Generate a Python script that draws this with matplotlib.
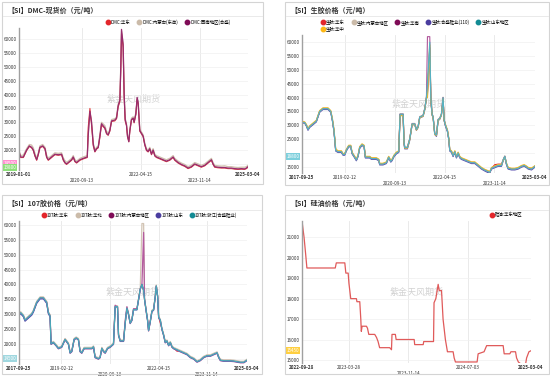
import matplotlib
matplotlib.use("Agg")
import matplotlib.pyplot as plt
import matplotlib.transforms as mtransforms
from matplotlib.lines import Line2D
from matplotlib.patches import Rectangle
import pandas as pd

plt.rcParams['font.family'] = ['Noto Sans CJK SC', 'DejaVu Sans']
plt.rcParams['axes.unicode_minus'] = False

# ---------------- data ----------------
titles = ["【SI】DMC-现货价（元/吨）", "【SI】生胶价格（元/吨）",
          "【SI】107胶价格（元/吨）", "【SI】硅油价格（元/吨）"]
watermark = "紫金天风期货"

# Panel 1: DMC
dmc_labels = ["DMC:华东", "DMC:内蒙古(东岳)", "DMC:西南地区(合盛)"]
dmc_dates = [
    "2019-01-01","2019-01-17","2019-02-13","2019-03-17","2019-04-13","2019-05-05","2019-05-22","2019-06-07","2019-06-24","2019-07-10",
    "2019-07-26","2019-08-22","2019-09-14","2019-09-30","2019-10-16","2019-11-02","2019-12-04","2019-12-21","2020-01-23","2020-02-24",
    "2020-03-12","2020-03-28","2020-04-13","2020-04-30","2020-06-02","2020-06-18","2020-07-04","2020-07-21","2020-08-23","2020-09-24",
    "2020-11-03","2020-11-12","2020-11-29","2020-12-15","2021-01-01","2021-01-17","2021-02-02","2021-02-19","2021-03-07","2021-03-23",
    "2021-04-25","2021-05-12","2021-05-28","2021-06-13","2021-06-30","2021-08-01","2021-08-18","2021-09-03","2021-09-20","2021-09-29",
    "2021-10-06","2021-10-22","2021-11-01","2021-11-11","2021-11-24","2021-12-04","2021-12-17","2021-12-27","2022-01-12","2022-01-29",
    "2022-02-07","2022-02-24","2022-03-09","2022-03-19","2022-04-04","2022-04-21","2022-05-07","2022-05-23","2022-06-09","2022-06-25",
    "2022-07-11","2022-07-28","2022-08-13","2022-08-30","2022-09-15","2022-10-18","2022-11-19","2022-12-22","2023-01-24","2023-02-26",
    "2023-03-14","2023-04-16","2023-05-19","2023-06-20","2023-07-23","2023-08-25","2023-09-27","2023-10-29","2023-12-01","2024-01-03",
    "2024-02-05","2024-03-09","2024-03-25","2024-04-10","2024-05-13","2024-06-15","2024-07-18","2024-08-19","2024-09-21","2024-10-24",
    "2024-11-26","2024-12-28","2025-01-30","2025-02-16","2025-03-04"]
dmc_east = [
    19000,17300,17300,19800,21300,20800,19800,17800,16300,18300,
    20800,21300,20300,17300,16300,16800,17800,18300,18100,18300,
    16300,15300,14800,15300,16300,17300,15800,15300,16300,16800,
    17300,28000,35000,29000,21500,19300,20300,20800,24500,29000,
    27800,25800,25300,26800,30300,30500,31300,35500,37500,49000,
    62000,57000,39000,30500,28800,24800,23000,26800,30800,31300,
    29800,32800,38500,36500,26800,25800,24800,21800,19800,19300,
    20300,18300,19800,17800,17300,16800,16300,15800,16300,17300,
    16300,15300,14600,14100,13300,13800,14800,14300,13800,14300,
    15300,16300,14800,13800,13600,13500,13500,13300,13300,13100,
    13000,13100,13000,13300,13800]
dmc_inner = [
    19800,18000,18200,20500,22000,21800,20800,18800,17000,19000,
    21500,22000,21000,18200,17200,17500,18500,19000,18800,19000,
    17200,16200,15600,16000,17000,18000,16600,16000,17000,17500,
    18000,26000,33000,30500,22500,20000,21000,21500,25500,30000,
    28800,26800,26000,27500,31000,31300,32000,36500,38500,51000,
    63000,58500,40500,31500,29500,25500,23500,27500,31500,32000,
    30500,33500,38000,37500,27500,26500,25500,22500,20500,20000,
    21000,19000,20500,18500,18000,17500,17000,16500,17000,18000,
    17000,16000,15300,14800,14000,14500,15500,15000,14500,15000,
    16000,17000,15500,14500,14300,14200,14300,14000,14000,13800,
    13700,13800,13800,14000,14500]
dmc_sw = [
    19500,17500,17500,20000,21500,21000,20000,18000,16500,18500,
    21000,21500,20500,17500,16500,17000,18000,18500,18300,18500,
    16500,15500,15000,15500,16500,17500,16000,15500,16500,17000,
    17500,25000,34000,30000,22000,19500,20500,21000,25000,29500,
    28000,26000,25500,27000,30500,30800,31500,36000,38000,50000,
    63500,58000,40000,31000,29000,25000,23000,27000,31000,31500,
    30000,33000,39000,37000,27000,26000,25000,22000,20000,19500,
    20500,18500,20000,18000,17500,17000,16500,16000,16500,17500,
    16500,15500,14800,14300,13500,14000,15000,14500,14000,14500,
    15500,16500,15000,14000,13800,13700,13700,13500,13500,13300,
    13200,13300,13200,13500,14000]
dmc_ticks = ["2019-01-01", "2020-09-13", "2022-04-15", "2023-11-14", "2025-03-04"]

# Panel 2: raw rubber
gum_labels = ["生胶:华东", "生胶:内蒙古地区", "生胶:华南", "生胶:合盛硅业(110)", "生胶:山东地区", "生胶:华中"]
gum_dates = [
    "2017-09-25","2017-10-26","2017-11-15","2017-12-04","2017-12-23","2018-01-31","2018-03-11","2018-04-19","2018-05-28","2018-07-25",
    "2018-08-26","2018-09-14","2018-10-03","2018-10-23","2018-11-19","2018-12-28","2019-01-16","2019-02-05","2019-02-24","2019-03-24",
    "2019-04-16","2019-05-02","2019-06-02","2019-06-21","2019-07-11","2019-07-30","2019-08-26","2019-09-19","2019-10-04","2019-10-27",
    "2019-11-24","2019-12-13","2020-01-21","2020-02-09","2020-03-08","2020-03-19","2020-04-27","2020-06-05","2020-07-02","2020-07-26",
    "2020-08-10","2020-09-03","2020-09-30","2020-10-27","2020-11-12","2020-12-17","2020-12-28","2021-01-05","2021-02-05","2021-03-04",
    "2021-04-01","2021-05-02","2021-05-21","2021-06-10","2021-06-29","2021-08-07","2021-08-27","2021-09-15","2021-09-27","2021-10-24",
    "2021-11-05","2021-11-20","2021-12-02","2021-12-21","2022-01-10","2022-01-29","2022-02-18","2022-03-09","2022-03-28","2022-04-09",
    "2022-04-25","2022-05-18","2022-06-03","2022-06-14","2022-07-04","2022-07-23","2022-08-12","2022-08-31","2022-09-20","2022-10-09",
    "2022-10-28","2022-12-06","2023-01-14","2023-02-22","2023-04-02","2023-05-11","2023-06-19","2023-07-28","2023-09-05","2023-09-24",
    "2023-10-14","2023-11-21","2023-12-30","2024-02-07","2024-02-27","2024-03-17","2024-04-06","2024-04-25","2024-06-03","2024-07-12",
    "2024-08-20","2024-09-28","2024-10-29","2024-11-25","2024-12-15","2025-01-23","2025-03-04"]
gum_red = [
    31000,31000,30000,28500,29500,30500,31500,35000,36000,36000,
    35000,32000,28000,21000,20500,20500,19500,19500,21000,22500,
    22500,20000,18500,17500,19000,22000,23000,22500,18500,18500,
    18500,18000,18000,18000,17500,16000,16000,16500,18500,17000,
    17500,19000,20000,20500,34000,34000,24000,22000,22000,25000,
    30500,30500,28500,29500,33000,33500,36000,40000,42000,58000,
    40000,34000,33000,27000,26500,32000,32500,34000,40000,32000,
    30000,28000,25000,21000,20500,19000,20500,18500,20000,18500,
    18000,17500,17000,16500,16500,15500,14500,13800,13300,13000,
    14500,15800,16000,16000,17500,18800,16000,14500,14200,14200,
    14500,15200,15500,15000,14500,14200,15200]
gum_tan = [
    31200,31200,30200,28700,29700,30700,31700,35200,36200,36200,
    35200,32200,28200,21200,20700,20700,19700,19700,21200,22700,
    22700,20200,18700,17700,19200,22200,23200,22700,18700,18700,
    18700,18200,18200,18200,17700,16200,16200,16700,18700,17200,
    17700,19200,20200,20700,34200,34200,24200,22200,22200,25200,
    30700,30700,28700,29700,33200,33700,36200,40200,43000,59000,
    40200,34200,33200,27200,26700,32200,32700,34200,40200,32200,
    30200,28200,25200,21200,20700,19200,20700,18700,20200,18700,
    18200,17700,17200,16700,16700,15700,14700,14000,13500,13200,
    14700,15200,15700,15700,17700,19000,16200,14700,14400,14400,
    14700,15400,15700,15200,14700,14400,15400]
gum_maroon = [
    31000,31000,30000,28500,29500,30500,31500,35000,36000,36000,
    35000,32000,28000,21000,20500,20500,19500,19500,21000,22500,
    22500,20000,18500,17500,19000,22000,23000,22500,18500,18500,
    18500,18000,18000,18000,17500,16000,16000,16500,18500,17000,
    17500,19000,20000,20500,34000,34000,24000,22000,22000,25000,
    30500,30500,28500,29500,33000,33500,36000,40000,62000,62000,
    40000,34000,33000,27000,26500,32000,32500,34000,40000,32000,
    30000,28000,25000,21000,20500,19000,20500,18500,20000,18500,
    18000,17500,17000,16500,16500,15500,14500,13800,13300,13000,
    14500,15000,15500,15500,17500,18800,16000,14500,14200,14200,
    14500,15200,15500,15000,14500,14200,15200]
gum_indigo = [
    30800,30800,29700,28200,29200,30200,31200,34700,35700,35700,
    34700,31700,27700,20700,20200,20200,19200,19200,20700,22200,
    22200,19700,18200,17200,18700,21700,22700,22200,18200,18200,
    18200,17700,17700,17700,17200,15700,15700,16200,18200,16700,
    17200,18700,19700,20200,33800,33800,23000,21500,21500,24500,
    30200,30200,28200,29200,32700,33200,35700,39700,41000,58000,
    39000,33700,32700,26700,26000,31700,32200,33700,39500,31700,
    29700,27700,24700,20700,20200,18700,20200,18200,19700,18200,
    17700,17200,16700,16200,16200,15200,14200,13500,12900,12900,
    14200,14700,15200,15200,17200,18500,15700,14200,13900,13900,
    14200,14900,15200,14700,14200,13900,14900]
gum_teal = [
    31000,31000,30000,28500,29500,30500,31500,35000,36000,36000,
    35000,32000,28000,21000,20500,20500,19500,19500,21000,22500,
    22500,20000,18500,17500,19000,22000,23000,22500,18500,18500,
    18500,18000,18000,18000,17500,16000,16000,16500,18500,17000,
    17500,19000,20000,20500,34000,34000,24000,22000,22000,25000,
    30500,30500,28500,29500,33000,33500,36000,40000,45000,60000,
    40000,34000,33000,27000,26500,32000,32500,34000,40000,32000,
    30000,28000,25000,21000,20500,19000,20500,18500,20000,18500,
    18000,17500,17000,16500,16500,15500,14500,13800,13300,13000,
    14500,15000,15500,15500,17500,18800,16000,14500,14200,14200,
    14500,15200,15500,15000,14500,14200,15200]
gum_yellow = [
    31500,31200,30300,28800,29800,30800,31800,35300,36300,36300,
    35300,32500,28500,21500,20800,20800,19800,19800,21300,22800,
    22800,20300,18800,17800,19300,22300,23300,22800,18800,18800,
    18800,18300,18300,18300,17800,16300,16300,16800,18800,17300,
    17800,19300,20300,20800,33500,33500,23800,21800,21800,24800,
    30300,30300,28300,29300,32800,33300,35800,39800,40000,59000,
    39500,33800,32800,26800,26300,31800,32300,33800,39500,31800,
    30300,28300,25300,21300,20800,19300,20800,18800,20300,18800,
    18300,17800,17300,16800,16800,15800,14800,14100,13600,13300,
    14800,15300,15800,15800,17300,18500,16300,14800,14500,14500,
    14800,15500,15800,15300,14800,14600,15400]
gum_tag_value = 18800
long_ticks = ["2017-09-25", "2019-02-12", "2020-09-13", "2022-04-15", "2023-11-14", "2025-03-04"]

# Panel 3: 107 gum
g107_labels = ["107胶:华东", "107胶:华北", "107胶:内蒙古地区", "107胶:山东", "107胶:浙江(合盛硅业)"]
g107_dates = [
    "2017-09-25","2017-10-15","2017-11-16","2017-12-06","2018-01-14","2018-02-23","2018-03-15","2018-04-24","2018-06-03","2018-07-13",
    "2018-08-21","2018-09-10","2018-09-30","2018-10-12","2018-11-09","2018-12-11","2019-01-08","2019-02-16","2019-03-28","2019-05-07",
    "2019-05-27","2019-06-16","2019-07-14","2019-08-07","2019-09-03","2019-09-23","2019-10-13","2019-11-10","2020-01-01","2020-02-10",
    "2020-03-01","2020-03-20","2020-04-29","2020-05-19","2020-06-08","2020-06-28","2020-07-18","2020-08-15","2020-09-16","2020-10-25",
    "2020-11-14","2020-12-12","2020-12-24","2021-01-13","2021-02-22","2021-03-14","2021-04-03","2021-04-22","2021-05-12","2021-06-01",
    "2021-06-21","2021-07-31","2021-08-20","2021-09-09","2021-09-29","2021-10-19","2021-10-30","2021-11-19","2021-12-05","2021-12-17",
    "2022-01-06","2022-01-26","2022-02-15","2022-03-07","2022-03-19","2022-04-04","2022-04-16","2022-05-06","2022-05-25","2022-06-14",
    "2022-07-04","2022-07-24","2022-08-13","2022-09-02","2022-09-22","2022-10-12","2022-11-21","2022-12-30","2023-02-08","2023-03-20",
    "2023-04-29","2023-06-08","2023-07-17","2023-08-26","2023-10-05","2023-11-14","2023-12-24","2024-02-01","2024-03-12","2024-04-01",
    "2024-04-21","2024-05-31","2024-07-10","2024-08-18","2024-09-27","2024-11-06","2024-12-16","2025-01-25","2025-03-04"]
g107_red = [
    30100,30600,29600,28100,29100,30100,31100,34100,35600,35600,
    34100,30600,29600,20100,20600,19600,18600,19100,21600,20100,
    17100,17600,21600,22100,21600,17600,17100,18600,18600,18600,
    19100,15600,15100,15600,18600,17600,17100,18600,19100,20100,
    32600,32600,23100,21100,21100,27100,32100,30100,27100,28100,
    31600,31600,35100,38600,40000,38000,35100,31100,28100,24600,
    27600,31100,31600,36100,39600,36100,29100,27000,25100,23100,
    20600,21100,19600,20600,19100,18600,17500,17600,17100,16600,
    15600,15100,14100,14600,15600,16100,16100,16600,17100,15600,
    14600,14400,14400,14400,14300,14100,13900,13900,14600]
g107_tan = [
    30300,30800,29800,28300,29300,30300,31300,34300,35800,35800,
    34300,30800,29800,20300,20800,19800,18800,19300,21800,20300,
    17300,17800,21800,22300,21800,17800,17300,18800,18800,18800,
    19300,15800,15300,15800,18800,17800,17300,18800,19300,20300,
    32800,32800,23300,21300,21300,27300,32300,30300,27300,28300,
    31800,31800,35300,38800,60500,60500,35300,31300,28300,24800,
    27800,31300,31800,36300,39800,36300,29300,28300,25300,23300,
    20800,21300,19800,20800,19300,18800,18300,17800,17300,16800,
    15800,15300,14300,14800,15800,16300,16300,16800,17300,15800,
    14800,14600,14600,14600,14500,14300,14100,14100,14800]
g107_maroon = [
    29800,30300,29300,27800,28800,29800,30800,33800,35300,35300,
    33800,30300,29300,19800,20300,19300,18300,18800,21300,19800,
    16800,17300,21300,21800,21300,17300,16800,18300,18300,18300,
    18800,15300,14800,15300,18300,17300,16800,18300,18800,19800,
    33000,32300,22800,20800,20800,28000,32500,29800,26800,27800,
    31800,31800,34800,38300,40000,57500,35000,30800,27800,24300,
    27300,30800,31300,35800,39300,35800,28800,27800,24800,22800,
    20300,20800,19300,20300,18800,18300,17800,17300,16800,16300,
    15300,14800,13800,14300,15300,15800,15800,16300,16800,15300,
    14300,14100,14100,14100,14000,13800,13600,13600,14300]
g107_indigo = [
    29600,30100,29100,27600,28600,29600,30600,33600,35100,35100,
    33600,30100,29100,19900,20400,19400,18400,18900,21400,19900,
    16900,17400,21400,21900,21400,17400,16900,18400,18400,18400,
    18900,15400,14900,15400,18400,17400,16900,18400,18900,19900,
    32400,32400,22900,20900,20900,26900,31900,29900,26900,27900,
    31400,31400,34900,38400,40000,38000,34900,30900,27900,24400,
    27400,30900,31400,35900,39400,35900,28900,27900,24900,22900,
    20400,20900,19400,20400,18900,18400,17900,17400,16900,16400,
    15400,14900,13900,14400,15400,15900,15900,16400,16900,15400,
    14400,14200,14200,14200,14100,13900,13700,13700,14400]
g107_teal = [
    30000,30500,29500,28000,29000,30000,31000,34000,35500,35500,
    34000,30500,29500,20000,20500,19500,18500,19000,21500,20000,
    17000,17500,21500,22000,21500,17500,17000,18500,18500,18500,
    19000,15500,15000,15500,18500,17500,17000,18500,19000,20000,
    32500,32500,23000,21000,21000,27000,32000,30000,27000,28000,
    31500,31500,35000,38500,40000,38000,35000,31000,28000,24500,
    27500,31000,31500,36000,39500,36000,29000,28000,25000,23000,
    20500,21000,19500,20500,19000,18500,18000,17500,17000,16500,
    15500,15000,14000,14500,15500,16000,16000,16500,17000,15500,
    14500,14300,14300,14300,14200,14000,13800,13800,14500]

# Panel 4: silicone oil
oil_labels = ["硅油:华东地区"]
oil_dates = [
    "2022-09-28","2022-10-06","2022-10-12","2022-10-17","2023-02-04","2023-02-08","2023-03-13","2023-03-17","2023-03-26","2023-03-29",
    "2023-04-05","2023-04-27","2023-04-29","2023-05-10","2023-05-14","2023-05-16","2023-05-19","2023-06-05","2023-06-09","2023-06-14",
    "2023-07-07","2023-07-14","2023-07-20","2023-07-26","2023-09-03","2023-09-10","2023-09-12","2023-09-25","2023-09-28","2023-12-07",
    "2023-12-09","2024-01-11","2024-01-13","2024-02-20","2024-02-22","2024-02-29","2024-03-09","2024-03-13","2024-03-22","2024-03-28",
    "2024-04-06","2024-04-14","2024-05-06","2024-05-10","2024-05-15","2024-08-07","2024-08-11","2024-09-03","2024-09-13","2024-11-16",
    "2024-11-20","2024-12-12","2024-12-16","2025-01-03","2025-01-07","2025-01-14","2025-01-24","2025-02-11","2025-02-15","2025-02-24",
    "2025-03-04"]
oil_values = [
    21800,21000,20200,19500,19500,19750,19750,19250,19250,18750,
    18000,18000,17850,17850,17000,16400,16650,16650,16550,16250,
    16250,16100,15900,15600,15600,15500,16250,16250,16000,16000,
    15750,15750,15900,15900,17800,18000,18700,18400,18400,17000,
    16000,15400,15400,15100,14900,14900,15300,15400,15700,15700,
    15300,15300,15400,15400,15100,14900,14800,14800,15100,15400,
    15450]
oil_ticks = ["2022-09-28", "2023-03-28", "2023-11-14", "2024-07-03", "2025-03-04"]

# ---------------- drawing ----------------
W, H = 550, 377
fig = plt.figure(figsize=(W / 100, H / 100), dpi=100)
fig.patch.set_facecolor('white')


def FX(x):
    return x / W


def FY(y):
    return 1 - y / H


def frame(l, t, r, b, title, sep_y):
    fig.add_artist(Rectangle((FX(l), FY(b)), (r - l) / W, (b - t) / H,
                             transform=fig.transFigure, fill=False,
                             ec='#d4d4d4', lw=0.8))
    fig.text(FX(l + 5), FY(t + 8), title, fontsize=5, fontweight='bold',
             color='#333333', ha='left', va='center')
    fig.add_artist(Line2D([FX(l + 1), FX(r - 1)], [FY(sep_y), FY(sep_y)],
                          transform=fig.transFigure, color='#e6e6e6', lw=0.6))


def make_axes(l, t, r, b, ylim, yticks, hidden=()):
    ax = fig.add_axes([FX(l), FY(b), (r - l) / W, (b - t) / H])
    ax.patch.set_alpha(0)
    for s in ('top', 'right', 'bottom'):
        ax.spines[s].set_visible(False)
    ax.spines['left'].set_color('#a0a0a0')
    ax.spines['left'].set_linewidth(1.0)
    ax.tick_params(axis='both', length=0, labelsize=3.3, colors='#333333', pad=1.6)
    ax.set_ylim(*ylim)
    yt = list(yticks)
    ax.set_yticks(yt)
    ax.set_yticklabels(['' if v in hidden else str(v) for v in yt])
    ax.yaxis.grid(True, color='#f0f0f0', lw=0.5)
    ax.set_axisbelow(True)
    ax.text(0.5, 0.5, watermark, transform=ax.transAxes, fontsize=6.5,
            color='#d2d2d2', ha='center', va='center', zorder=0)
    return ax


def set_dates(ax, ticks, row2):
    t = pd.to_datetime(ticks)
    ax.set_xlim(t[0], t[-1])
    ax.set_xticks(t)
    ax.set_xticklabels([('\n' + s) if i in row2 else s for i, s in enumerate(ticks)])
    tl = ax.get_xticklabels()
    tl[0].set_fontweight('bold')
    tl[-1].set_fontweight('bold')
    for d in t[1:-1]:
        ax.axvline(d, color='#e6e6e6', lw=0.6, zorder=0)


def tag(ax, val, fc, dy=0):
    trans = mtransforms.blended_transform_factory(ax.transAxes, ax.transData)
    ax.text(-0.012, val + dy, f"{int(val)}", transform=trans, ha='right', va='center',
            fontsize=3.3, color='white',
            bbox=dict(boxstyle='square,pad=0.2', fc=fc, ec='none'),
            clip_on=False, zorder=10)


def legend(ax, labels, colors, x, y, ncol, loc='center left', order=None):
    handles = [Line2D([0], [0], marker='o', ls='none', ms=3.2, mfc=c, mec=c) for c in colors]
    labs = list(labels)
    if order is not None:
        handles = [handles[i] for i in order]
        labs = [labs[i] for i in order]
    ax.legend(handles, labs, loc=loc, bbox_to_anchor=(FX(x), FY(y)),
              bbox_transform=fig.transFigure, ncol=ncol, fontsize=3.2,
              frameon=False, handlelength=0.8, handletextpad=0.3,
              columnspacing=1.6, borderpad=0, borderaxespad=0,
              labelspacing=0.35)


C_RED, C_TAN, C_MAR = '#e3262b', '#cbbba9', '#7f0b57'
C_IND, C_TEAL, C_YEL = '#4a3d9f', '#138b94', '#fdb714'

# Panel 1
frame(2, 2, 263, 184, titles[0], 16)
ax1 = make_axes(19, 28, 248, 170, (12800, 64000), range(15000, 60001, 5000), hidden=(15000,))
d1 = pd.to_datetime(dmc_dates)
ax1.plot(d1, dmc_inner, color='#cfbfac', lw=0.9)
ax1.plot(d1, dmc_east, color='#e0403f', lw=0.8)
ax1.plot(d1, dmc_sw, color='#962c6e', lw=0.9)
set_dates(ax1, dmc_ticks, [1, 3])
tag(ax1, dmc_inner[-1], '#ff8fcf', dy=600)
tag(ax1, dmc_east[-1], '#8ddf7a')
legend(ax1, dmc_labels, [C_RED, C_TAN, C_MAR], 106, 22, 3)

# Panel 2
frame(285, 2, 549, 185, titles[1], 16)
ax2 = make_axes(302, 35, 535, 173, (12800, 62600), range(15000, 60001, 5000), hidden=(20000,))
d2 = pd.to_datetime(gum_dates)
ax2.plot(d2, gum_red, color=C_RED, lw=0.8)
ax2.plot(d2, gum_tan, color=C_TAN, lw=0.8)
ax2.plot(d2, gum_indigo, color='#5a4fb0', lw=0.8)
ax2.plot(d2, gum_maroon, color='#b0559a', lw=0.8)
ax2.plot(d2, gum_yellow, color='#f7b924', lw=0.9)
ax2.plot(d2, gum_teal, color='#56b1c2', lw=0.9)
set_dates(ax2, long_ticks, [2, 4])
tag(ax2, gum_tag_value, '#7ccfdc')
legend(ax2, gum_labels, [C_RED, C_TAN, C_MAR, C_IND, C_TEAL, C_YEL], 321, 19.5, 5,
       loc='upper left', order=[0, 5, 1, 2, 3, 4])

# Panel 3
frame(2, 195, 262, 374, titles[2], 210)
ax3 = make_axes(19, 221, 247, 364, (13200, 61350), range(15000, 60001, 5000), hidden=(15000,))
d3 = pd.to_datetime(g107_dates)
ax3.plot(d3, g107_red, color=C_RED, lw=0.8)
ax3.plot(d3, g107_tan, color='#d2c4b4', lw=0.9)
ax3.plot(d3, g107_maroon, color='#b45a9e', lw=0.9)
ax3.plot(d3, g107_indigo, color='#5a4fb0', lw=0.8)
ax3.plot(d3, g107_teal, color='#4aa9b8', lw=0.9)
set_dates(ax3, long_ticks, [2, 4])
tag(ax3, g107_teal[-1], '#9fd7df', dy=500)
legend(ax3, g107_labels, [C_RED, C_TAN, C_MAR, C_IND, C_TEAL], 42, 215, 5)

# Panel 4
frame(285, 195, 549, 374, titles[3], 210)
ax4 = make_axes(302, 221, 531, 363, (14850, 21800), range(15000, 21001, 1000))
d4 = pd.to_datetime(oil_dates)
ax4.plot(d4, oil_values, color='#e05a5a', lw=0.9)
set_dates(ax4, oil_ticks, [2])
tag(ax4, oil_values[-1], '#ffcf40')
legend(ax4, oil_labels, [C_RED], 490, 215, 1)

fig.savefig('out.png', dpi=100)
